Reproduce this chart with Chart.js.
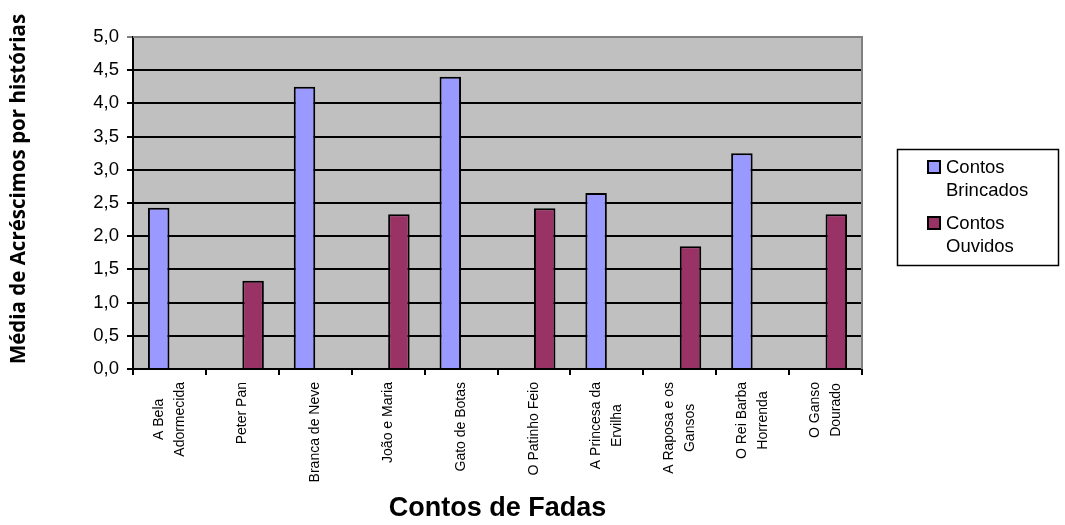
<!DOCTYPE html>
<html lang="pt">
<head>
<meta charset="utf-8">
<title>Contos de Fadas</title>
<script src="https://cdn.jsdelivr.net/npm/chart.js@4.4.1/dist/chart.umd.min.js"></script>
<style>
  html, body { margin: 0; padding: 0; background: #fff; }
  #wrap { width: 1065px; height: 525px; position: relative; }
</style>
</head>
<body>
<div id="wrap"><canvas id="contosChart"></canvas></div>
<script>
// categorias (cada uma quebrada em linhas como no original)
const historias = [
    ['A Bela', 'Adormecida'],
    ['Peter Pan'],
    ['Branca de Neve'],
    ['João e Maria'],
    ['Gato de Botas'],
    ['O Patinho Feio'],
    ['A Princesa da', 'Ervilha'],
    ['A Raposa e os', 'Gansos'],
    ['O Rei Barba', 'Horrenda'],
    ['O Ganso', 'Dourado']
];
const contosBrincados = [2.43, null, 4.25, null, 4.4, null, 2.65, null, 3.25, null];
const contosOuvidos = [null, 1.33, null, 2.33, null, 2.42, null, 1.85, null, 2.33];
const legendaBrincados = ['Contos', 'Brincados'];
const legendaOuvidos = ['Contos', 'Ouvidos'];
const tituloY = 'Média de Acréscimos por histórias';
const tituloX = 'Contos de Fadas';

const corBrincados = '#9999FF';
const corOuvidos = '#993366';
const fonte = '"Liberation Sans", Arial, sans-serif';

// fundo cinza da área de plotagem + borda superior/direita
const fundoPlugin = {
    id: 'fundo',
    beforeDraw(chart) {
        const { ctx, chartArea: a } = chart;
        ctx.save();
        ctx.fillStyle = '#C0C0C0';
        ctx.fillRect(a.left, a.top, a.right - a.left, a.bottom - a.top);
        ctx.restore();
    },
    beforeDatasetsDraw(chart) {
        const { ctx, chartArea: a } = chart;
        ctx.save();
        ctx.strokeStyle = '#808080';
        ctx.lineWidth = 2;
        ctx.beginPath();
        ctx.moveTo(a.left, a.top);
        ctx.lineTo(a.right, a.top);
        ctx.lineTo(a.right, a.bottom);
        ctx.stroke();
        ctx.restore();
    }
};

// rótulos do eixo X girados (linhas centralizadas) + título do eixo Y
const rotulosPlugin = {
    id: 'rotulos',
    afterDraw(chart) {
        const { ctx } = chart;
        const x = chart.scales.x;
        const alturaLinha = 20.5;
        ctx.save();
        ctx.font = '14px ' + fonte;
        ctx.fillStyle = '#000';
        ctx.textAlign = 'center';
        ctx.textBaseline = 'middle';
        historias.forEach((linhas, i) => {
            const cx = x.getPixelForValue(i);
            const w = Math.max(...linhas.map(l => ctx.measureText(l).width));
            const topo = x.top + 13;
            ctx.save();
            ctx.translate(cx, topo + w / 2);
            ctx.rotate(-Math.PI / 2);
            linhas.forEach((l, k) => {
                ctx.fillText(l, 0, (k - (linhas.length - 1) / 2) * alturaLinha);
            });
            ctx.restore();
        });

        // título vertical
        ctx.font = 'bold 20.5px "Open Sans", "Noto Sans", sans-serif';
        ctx.translate(19, 189);
        ctx.rotate(-Math.PI / 2);
        ctx.fillText(tituloY, 0, 0);
        ctx.restore();
    }
};

// legenda à direita com texto em duas linhas
const legendaPlugin = {
    id: 'legendaContos',
    afterDraw(chart) {
        const { ctx } = chart;
        const itens = [
            { texto: legendaBrincados, cor: chart.data.datasets[0].backgroundColor },
            { texto: legendaOuvidos, cor: chart.data.datasets[1].backgroundColor }
        ];
        ctx.save();
        ctx.strokeStyle = '#000';
        ctx.lineWidth = 1.5;
        ctx.strokeRect(897.5, 149.5, 161, 116);
        ctx.font = '18.5px ' + fonte;
        ctx.textBaseline = 'alphabetic';
        ctx.textAlign = 'left';
        itens.forEach((item, i) => {
            const base = 173 + i * 56;
            ctx.fillStyle = item.cor;
            ctx.fillRect(928, base - 12, 12, 12);
            ctx.lineWidth = 2;
            ctx.strokeRect(928, base - 12, 12, 12);
            ctx.fillStyle = '#000';
            item.texto.forEach((t, k) => ctx.fillText(t, 946, base + k * 22.5));
        });
        ctx.restore();
    }
};

const ctx = document.getElementById('contosChart').getContext('2d');
new Chart(ctx, {
    type: 'bar',
    data: {
        labels: historias.map(h => h.join(' ')),
        datasets: [{
            label: legendaBrincados.join(' '),
            data: contosBrincados,
            backgroundColor: corBrincados,
            borderColor: '#000',
            borderWidth: 2,
            categoryPercentage: 0.59,
            barPercentage: 1
        }, {
            label: legendaOuvidos.join(' '),
            data: contosOuvidos,
            backgroundColor: corOuvidos,
            borderColor: '#000',
            borderWidth: 2,
            categoryPercentage: 0.59,
            barPercentage: 1
        }]
    },
    options: {
        responsive: true,
        maintainAspectRatio: false,
        animation: false,
        devicePixelRatio: 1,
        layout: {
            padding: { top: 37, right: 203, left: 0, bottom: 0 }
        },
        plugins: {
            legend: { display: false },
            tooltip: { enabled: false }
        },
        scales: {
            x: {
                afterFit: (scale) => { scale.height = 156; },
                ticks: { display: false },
                grid: {
                    drawOnChartArea: false,
                    drawTicks: true,
                    tickLength: 6,
                    color: '#000',
                    lineWidth: 2
                },
                border: { color: '#000', width: 2 },
                title: {
                    display: true,
                    text: tituloX,
                    color: '#000',
                    font: { family: fonte, size: 27, weight: 'bold' },
                    padding: { top: 0, bottom: 0 }
                }
            },
            y: {
                min: 0,
                max: 5,
                afterFit: (scale) => { scale.width = 133; },
                ticks: {
                    stepSize: 0.5,
                    color: '#000',
                    padding: 8,
                    font: { family: fonte, size: 18.5 },
                    callback: (v) => v.toFixed(1).replace('.', ',')
                },
                grid: {
                    color: (c) => c.tick && c.tick.value === 5 ? '#808080' : '#000',
                    lineWidth: 2,
                    tickLength: 6
                },
                border: { color: '#000', width: 2 }
            }
        }
    },
    plugins: [fundoPlugin, rotulosPlugin, legendaPlugin]
});
</script>
</body>
</html>
